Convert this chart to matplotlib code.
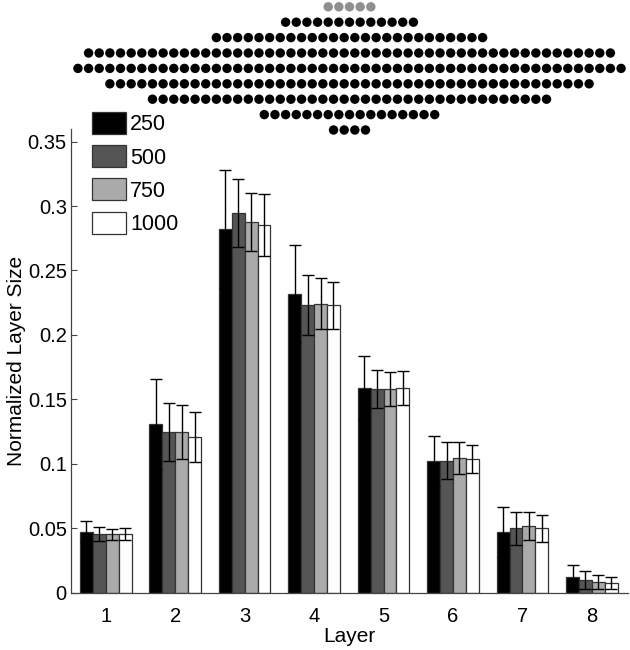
import matplotlib
matplotlib.use("Agg")
import matplotlib.pyplot as plt
import numpy as np

plt.rcParams['font.family'] = ['Liberation Sans', 'DejaVu Sans']

layers = [1, 2, 3, 4, 5, 6, 7, 8]
series_names = ['250', '500', '750', '1000']
series_colors = ['#000000', '#555555', '#aaaaaa', '#ffffff']

vals_250 = [0.0473, 0.1310, 0.2822, 0.2319, 0.1588, 0.1024, 0.0468, 0.0124]
vals_500 = [0.0455, 0.1247, 0.2945, 0.2234, 0.1580, 0.1024, 0.0499, 0.0096]
vals_750 = [0.0455, 0.1247, 0.2876, 0.2242, 0.1580, 0.1045, 0.0520, 0.0083]
vals_1000 = [0.0455, 0.1208, 0.2850, 0.2229, 0.1588, 0.1037, 0.0499, 0.0077]

err_250 = [0.0080, 0.0350, 0.0460, 0.0376, 0.0245, 0.0194, 0.0194, 0.0093]
err_500 = [0.0055, 0.0225, 0.0265, 0.0234, 0.0146, 0.0144, 0.0131, 0.0069]
err_750 = [0.0043, 0.0210, 0.0226, 0.0196, 0.0134, 0.0127, 0.0109, 0.0056]
err_1000 = [0.0045, 0.0197, 0.0240, 0.0185, 0.0132, 0.0109, 0.0106, 0.0047]

yticks = [0, 0.05, 0.1, 0.15, 0.2, 0.25, 0.3, 0.35]
ytick_labels = ['0', '0.05', '0.1', '0.15', '0.2', '0.25', '0.3', '0.35']

# dot diagram at top: number of dots per row (first row drawn gray)
dot_row_counts = [5, 13, 26, 50, 52, 46, 38, 17, 4]
dot_row_colors = ['#8f8f8f'] + ['#000000'] * 8

W, H = 630, 650
fig = plt.figure(figsize=(W / 100, H / 100), dpi=100)
ax = fig.add_axes([71 / W, 1 - 592.7 / H, (628 - 71) / W, (592.7 - 128.7) / H])
ax.set_facecolor('none')

all_vals = [vals_250, vals_500, vals_750, vals_1000]
all_errs = [err_250, err_500, err_750, err_1000]
x = np.array(layers, dtype=float)
bw = 0.186
handles = []
for i, (v, e, c, n) in enumerate(zip(all_vals, all_errs, series_colors, series_names)):
    pos = x + (i - 1.5) * bw
    b = ax.bar(pos, v, width=bw, color=c, edgecolor='#333333', linewidth=0.9,
               label=n, zorder=2)
    ax.errorbar(pos, v, yerr=e, fmt='none', ecolor='#000000', elinewidth=1.0,
                capsize=4, capthick=1.0, zorder=3)
    handles.append(b)

ax.set_xlim(0.5, 8.52)
ax.set_ylim(0, 0.36)
ax.set_xticks(layers)
ax.set_xticklabels([str(l) for l in layers])
ax.set_yticks(yticks)
ax.set_yticklabels(ytick_labels)
ax.tick_params(axis='both', direction='in', length=4, width=0.8, colors='#444444',
               labelcolor='#000000', labelsize=14.5)
ax.tick_params(axis='x', pad=10)
ax.tick_params(axis='y', pad=3)
for s in ['top', 'right']:
    ax.spines[s].set_visible(False)
for s in ['left', 'bottom']:
    ax.spines[s].set_color('#444444')
    ax.spines[s].set_linewidth(0.9)

ax.set_xlabel('Layer', fontsize=15, labelpad=1)
ax.set_ylabel('Normalized Layer Size', fontsize=15, labelpad=1)

leg = ax.legend(handles=handles, labels=series_names, loc='upper left',
                bbox_to_anchor=(92.3 / W, 1 - 112.0 / H), bbox_transform=fig.transFigure,
                frameon=False, fontsize=15.5, handlelength=1.55, handleheight=1.2,
                handletextpad=0.2, labelspacing=0.46, borderpad=0, borderaxespad=0)
for p in leg.get_patches():
    p.set_edgecolor('#333333')

# dot diagram overlay in pixel coordinates
dax = fig.add_axes([0, 0, 1, 1])
dax.set_xlim(0, W)
dax.set_ylim(H, 0)
dax.axis('off')
dax.patch.set_alpha(0)
cx = 349.5
dx = 10.65
y0, dy = 6.8, 15.4
for r, (cnt, col) in enumerate(zip(dot_row_counts, dot_row_colors)):
    xs = cx + (np.arange(cnt) - (cnt - 1) / 2) * dx
    ys = np.full(cnt, y0 + r * dy)
    dax.scatter(xs, ys, s=46, color=col, edgecolors='none')

fig.savefig('out.png', dpi=100)
